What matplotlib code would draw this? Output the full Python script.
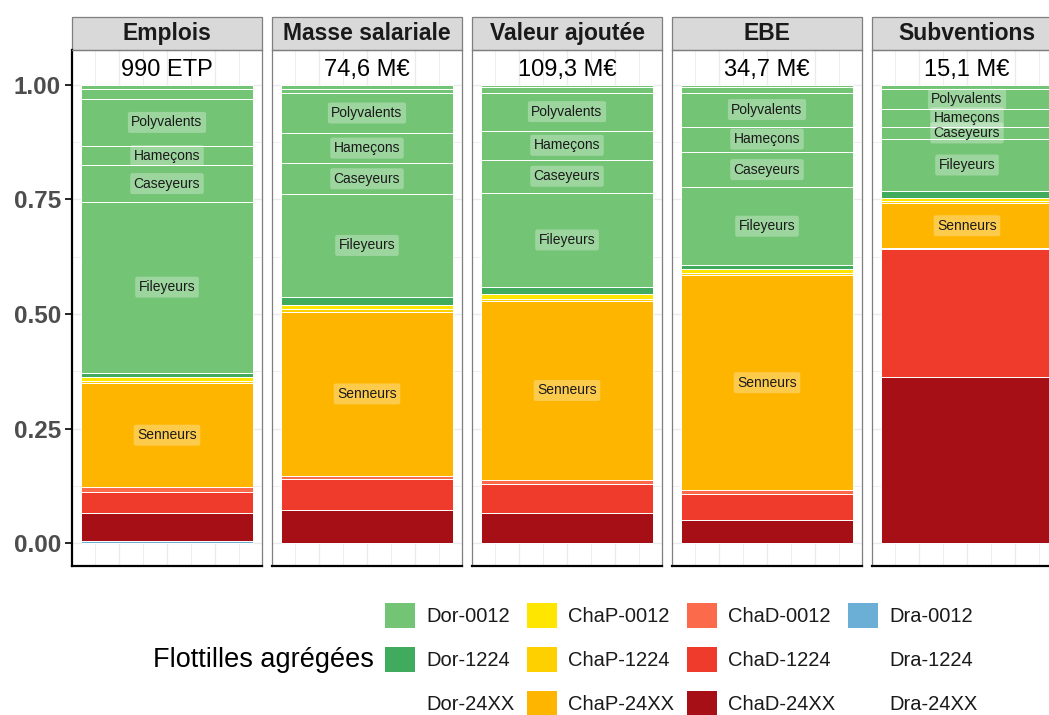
import matplotlib
matplotlib.use("Agg")
import matplotlib.pyplot as plt
from matplotlib.patches import Patch, Rectangle
import numpy as np

plt.rcParams['font.family'] = ['Liberation Sans', 'DejaVu Sans']

# ---------------- data ----------------
panels = ["Emplois", "Masse salariale", "Valeur ajoutée", "EBE", "Subventions"]
totals = ["990 ETP", "74,6 M€", "109,3 M€", "34,7 M€", "15,1 M€"]

# segments, stacked bottom -> top
segment_fills = ["Dra-0012", "ChaD-24XX", "ChaD-1224", "ChaD-0012", "ChaP-24XX",
                 "ChaP-1224", "ChaP-0012", "Dor-1224", "Dor-0012", "Dor-0012",
                 "Dor-0012", "Dor-0012", "Dor-0012", "Dor-0012"]
segment_labels = ["", "", "", "", "Senneurs", "", "", "", "Fileyeurs", "Caseyeurs",
                  "Hameçons", "Polyvalents", "", ""]

emplois = [0.005, 0.061, 0.045, 0.011, 0.227, 0.005, 0.009, 0.009, 0.373, 0.079, 0.043, 0.102, 0.021, 0.010]
masse = [0.0, 0.072, 0.068, 0.006, 0.359, 0.005, 0.010, 0.018, 0.223, 0.068, 0.066, 0.087, 0.008, 0.010]
valeur = [0.0, 0.065, 0.065, 0.007, 0.392, 0.004, 0.010, 0.015, 0.207, 0.071, 0.064, 0.083, 0.012, 0.005]
ebe = [0.0, 0.050, 0.058, 0.008, 0.468, 0.005, 0.010, 0.008, 0.169, 0.078, 0.055, 0.074, 0.012, 0.005]
subventions = [0.0, 0.362, 0.279, 0.002, 0.099, 0.004, 0.007, 0.016, 0.112, 0.028, 0.038, 0.043, 0.010, 0.0]
values = [emplois, masse, valeur, ebe, subventions]

legend_order = ["Dor-0012", "Dor-1224", "Dor-24XX",
                "ChaP-0012", "ChaP-1224", "ChaP-24XX",
                "ChaD-0012", "ChaD-1224", "ChaD-24XX",
                "Dra-0012", "Dra-1224", "Dra-24XX"]
colors = {"Dor-0012": "#74C476", "Dor-1224": "#41AB5D", "Dor-24XX": "none",
          "ChaP-0012": "#FFE600", "ChaP-1224": "#FFD000", "ChaP-24XX": "#FDB500",
          "ChaD-0012": "#FB6A4A", "ChaD-1224": "#EF3B2C", "ChaD-24XX": "#A50F15",
          "Dra-0012": "#6BAED6", "Dra-1224": "none", "Dra-24XX": "none"}

yticks = [0.0, 0.25, 0.5, 0.75, 1.0]
ytick_labels = ["0.00", "0.25", "0.50", "0.75", "1.00"]

# ---------------- figure ----------------
W, H = 1049, 715
fig = plt.figure(figsize=(W / 100, H / 100), dpi=100)

panel_left0 = 72
panel_w = 190
panel_step = 200
panel_top = 50
panel_bottom = 566
strip_h = 33

for i, (name, tot, vals) in enumerate(zip(panels, totals, values)):
    left = panel_left0 + i * panel_step
    ax = fig.add_axes([left / W, (H - panel_bottom) / H, panel_w / W,
                       (panel_bottom - panel_top) / H])
    ax.set_xlim(-0.495, 0.495)
    ax.set_ylim(-0.05, 1.076)
    ax.set_facecolor("white")
    # grid
    for gx in np.arange(-0.375, 0.376, 0.125):
        ax.axvline(gx, color="#EBEBEB", lw=0.6 if abs(gx * 4 - round(gx * 4)) > 1e-6 else 1.0, zorder=0)
    for gy in np.arange(0, 1.01, 0.125):
        ax.axhline(gy, color="#EBEBEB", lw=0.6 if abs(gy * 4 - round(gy * 4)) > 1e-6 else 1.0, zorder=0)

    bottoms = np.concatenate([[0], np.cumsum(vals)[:-1]])
    for v, b, f, lab in zip(vals, bottoms, segment_fills, segment_labels):
        if v <= 0:
            continue
        ax.bar(0, v, bottom=b, width=0.9, color=colors[f], edgecolor="white",
               linewidth=0.7, zorder=2)
        if lab:
            ax.text(0, b + v / 2, lab, ha="center", va="center", fontsize=10,
                    color="#1a1a1a", zorder=4,
                    bbox=dict(boxstyle="round,pad=0.25,rounding_size=0.15",
                              fc=(1, 1, 1, 0.3), ec="none"))
    ax.text(0, 1.032, tot, ha="center", va="center", fontsize=17, color="black")

    # spines
    for s in ["top", "right", "left"]:
        ax.spines[s].set_color("#7F7F7F")
        ax.spines[s].set_linewidth(0.9)
    ax.spines["bottom"].set_color("black")
    ax.spines["bottom"].set_linewidth(1.6)
    ax.set_xticks([])
    if i == 0:
        ax.spines["left"].set_color("black")
        ax.spines["left"].set_linewidth(1.6)
        ax.set_yticks(yticks)
        ax.set_yticklabels(ytick_labels, fontsize=17.5, fontweight="bold", color="#4D4D4D")
        ax.tick_params(axis="y", length=5, width=1.2, color="black", pad=3)
    else:
        ax.set_yticks([])

    # strip
    sh = strip_h / (panel_bottom - panel_top)
    ax.add_patch(Rectangle((0, 1), 1, sh, transform=ax.transAxes, clip_on=False,
                           fc="#D9D9D9", ec="#7F7F7F", lw=0.9))
    ax.text(0.5, 1 + sh / 2, name, transform=ax.transAxes, ha="center", va="center",
            fontsize=16.5, fontweight="bold", color="#1A1A1A")

# legend
handles = [Patch(facecolor=colors[k], edgecolor="none") for k in legend_order]
leg = fig.legend(handles, legend_order, ncol=4, loc="upper left",
                 bbox_to_anchor=(385 / W, (H - 603) / H), frameon=False,
                 fontsize=14.5, handlelength=1.5, handleheight=1.55,
                 handletextpad=0.55, columnspacing=0.62, labelspacing=0.93,
                 borderpad=0, borderaxespad=0)
for t in leg.get_texts():
    t.set_color("#1A1A1A")
fig.text(153 / W, (H - 660) / H, "Flottilles agrégées", fontsize=19.5,
         ha="left", va="center", color="black")

fig.savefig("out.png", dpi=100)
